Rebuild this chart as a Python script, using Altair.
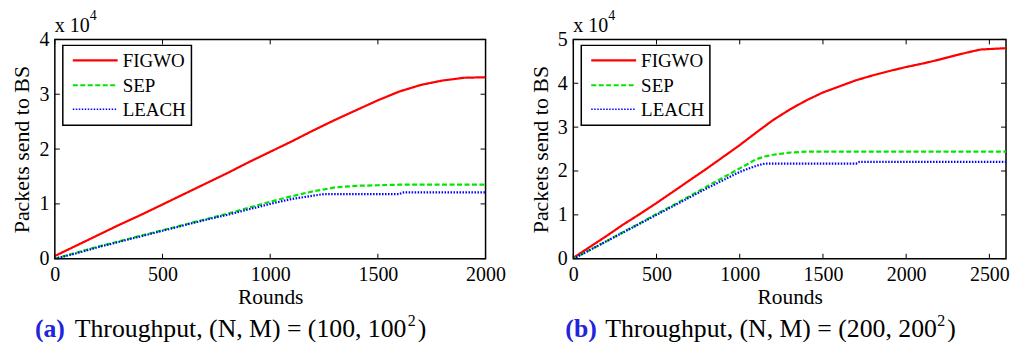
import altair as alt
import pandas as pd

FONT = "Times New Roman, Liberation Serif, Times, serif"

series = ["FIGWO", "SEP", "LEACH"]
colors = ["#ff0000", "#00e600", "#0000ff"]
dashes = [[1, 0], [5, 2.5], [1.5, 1.5]]
widths = [2.2, 2.2, 1.4]

# ---- panel (a): (N, M) = (100, 100^2), values in x10^4 packets ----
a_figwo_r = [0, 100, 200, 300, 400, 500, 600, 700, 800, 900, 1000, 1100, 1200, 1300,
             1400, 1500, 1600, 1700, 1800, 1900, 2000]
a_figwo_v = [0.05, 0.24, 0.43, 0.62, 0.80, 0.99, 1.18, 1.37, 1.56, 1.76, 1.95, 2.14, 2.34,
             2.53, 2.71, 2.89, 3.05, 3.17, 3.25, 3.30, 3.31]
a_sep_r = [0, 100, 200, 300, 400, 500, 600, 700, 800, 900, 1000, 1100, 1200, 1300, 1400,
           1500, 1600, 2000]
a_sep_v = [0.0, 0.11, 0.22, 0.32, 0.42, 0.52, 0.62, 0.72, 0.82, 0.93, 1.04, 1.14, 1.23,
           1.30, 1.33, 1.34, 1.35, 1.35]
a_leach_r = [0, 100, 200, 300, 400, 500, 600, 700, 800, 900, 1000, 1100, 1200, 1250, 1300,
             1600, 1620, 2000]
a_leach_v = [0.0, 0.10, 0.21, 0.31, 0.41, 0.51, 0.61, 0.71, 0.80, 0.90, 1.00, 1.09, 1.15,
             1.18, 1.18, 1.18, 1.21, 1.21]

# ---- panel (b): (N, M) = (200, 200^2) ----
b_figwo_r = [0, 100, 200, 300, 400, 500, 600, 700, 800, 900, 1000, 1100, 1200, 1300, 1400,
             1500, 1600, 1700, 1800, 1900, 2000, 2100, 2200, 2300, 2400, 2450, 2500, 2600]
b_figwo_v = [0.02, 0.27, 0.52, 0.78, 1.02, 1.27, 1.53, 1.79, 2.05, 2.32, 2.59, 2.88, 3.16,
             3.40, 3.61, 3.79, 3.93, 4.07, 4.18, 4.28, 4.37, 4.45, 4.54, 4.64, 4.73, 4.77,
             4.78, 4.80]
b_sep_r = [0, 100, 200, 300, 400, 500, 600, 700, 800, 900, 1000, 1100, 1150, 1200, 1300,
           1400, 2600]
b_sep_v = [0.0, 0.20, 0.40, 0.61, 0.81, 1.02, 1.22, 1.43, 1.64, 1.85, 2.06, 2.27, 2.33,
           2.37, 2.42, 2.44, 2.44]
b_leach_r = [0, 100, 200, 300, 400, 500, 600, 700, 800, 900, 1000, 1100, 1150, 1700, 1720,
             2600]
b_leach_v = [0.0, 0.20, 0.40, 0.60, 0.80, 1.00, 1.20, 1.40, 1.60, 1.79, 1.98, 2.12, 2.17,
             2.17, 2.21, 2.21]

a_xticks = [0, 500, 1000, 1500, 2000]
a_yticks = [0, 1, 2, 3, 4]
b_xticks = [0, 500, 1000, 1500, 2000, 2500]
b_yticks = [0, 1, 2, 3, 4, 5]

cap_tags = ["(a)", "(b)"]
cap_texts = ["Throughput, (N, M) = (100, 100", "Throughput, (N, M) = (200, 200"]
cap_sup = "2"
cap_close = ")"
x_title = "Rounds"
y_title = "Packets send to BS"
exp_base = "x 10"
exp_sup = "4"

H = 220
CAP_FS = 25.8


def long_df(parts):
    rows = []
    for name, rr, vv in parts:
        for r, v in zip(rr, vv):
            rows.append({"Rounds": r, "Packets": v, "Series": name})
    return pd.DataFrame(rows)


def panel(parts, xdom, ydom, xticks, yticks, W, tag, text, cap_off):
    df = long_df(parts)
    X = alt.X("Rounds:Q", scale=alt.Scale(domain=xdom, nice=False, zero=False),
              axis=alt.Axis(values=xticks, format="d", title=x_title, grid=False,
                            ticks=False, domain=False, labelFont=FONT, labelFontSize=20,
                            labelColor="black", labelPadding=6, titleFont=FONT,
                            titleFontSize=21.5, titleFontWeight="normal", titleColor="black",
                            titlePadding=2, labelFlush=False, labelOverlap=False))
    Y = alt.Y("Packets:Q", scale=alt.Scale(domain=ydom, nice=False, zero=False),
              axis=alt.Axis(values=yticks, format="d", title=y_title, grid=False,
                            ticks=False, domain=False, labelFont=FONT, labelFontSize=20,
                            labelColor="black", labelPadding=6, titleFont=FONT,
                            titleFontSize=22, titleFontWeight="normal", titleColor="black",
                            titlePadding=5, labelFlush=False, labelOverlap=False))

    lines = alt.Chart(df).mark_line(clip=True).encode(
        x=X, y=Y,
        color=alt.Color("Series:N", scale=alt.Scale(domain=series, range=colors), legend=None),
        strokeDash=alt.StrokeDash("Series:N", scale=alt.Scale(domain=series, range=dashes),
                                  legend=None),
        strokeWidth=alt.StrokeWidth("Series:N", scale=alt.Scale(domain=series, range=widths),
                                    legend=None),
        order=alt.Order("Rounds:Q"),
    )

    xt = pd.DataFrame({"Rounds": xticks})
    yt = pd.DataFrame({"Packets": yticks})
    tick_b = alt.Chart(xt).mark_rule(color="black", strokeWidth=1).encode(
        x=X, y=alt.value(H), y2=alt.value(H - 5))
    tick_t = alt.Chart(xt).mark_rule(color="black", strokeWidth=1).encode(
        x=X, y=alt.value(0), y2=alt.value(5))
    tick_l = alt.Chart(yt).mark_rule(color="black", strokeWidth=1).encode(
        y=Y, x=alt.value(0), x2=alt.value(5))
    tick_r = alt.Chart(yt).mark_rule(color="black", strokeWidth=1).encode(
        y=Y, x=alt.value(W - 5), x2=alt.value(W))

    one = alt.Data(values=[{"k": 1}])
    legend_box = alt.Chart(one).mark_rect(fill="white", stroke="black", strokeWidth=1.5).encode(
        x=alt.value(8), x2=alt.value(137), y=alt.value(6), y2=alt.value(86))
    leg = [legend_box]
    row_y = [21, 46, 70]
    for i, name in enumerate(series):
        leg.append(alt.Chart(one).mark_rule(color=colors[i], strokeDash=dashes[i],
                                            strokeWidth=widths[i]).encode(
            x=alt.value(18), x2=alt.value(63), y=alt.value(row_y[i]), y2=alt.value(row_y[i])))
        leg.append(alt.Chart(alt.Data(values=[{"t": name}])).mark_text(
            align="left", baseline="middle", font=FONT, fontSize=19, color="black").encode(
            text="t:N", x=alt.value(68), y=alt.value(row_y[i] + 1)))

    exp1 = alt.Chart(alt.Data(values=[{"t": exp_base}])).mark_text(
        align="left", baseline="alphabetic", font=FONT, fontSize=20, color="black").encode(
        text="t:N", x=alt.value(0), y=alt.value(-7))
    exp2 = alt.Chart(alt.Data(values=[{"t": exp_sup}])).mark_text(
        align="left", baseline="alphabetic", font=FONT, fontSize=14, color="black").encode(
        text="t:N", x=alt.value(35), y=alt.value(-19))

    c_tag = alt.Chart(alt.Data(values=[{"t": tag}])).mark_text(
        align="left", baseline="alphabetic", font=FONT, fontSize=CAP_FS, fontWeight="bold",
        color="#2323dc").encode(text="t:N", x=alt.value(cap_off[0]), y=alt.value(298))
    c_txt = alt.Chart(alt.Data(values=[{"t": text}])).mark_text(
        align="left", baseline="alphabetic", font=FONT, fontSize=CAP_FS, color="black").encode(
        text="t:N", x=alt.value(cap_off[1]), y=alt.value(298))
    c_sup = alt.Chart(alt.Data(values=[{"t": cap_sup}])).mark_text(
        align="left", baseline="alphabetic", font=FONT, fontSize=16, color="black").encode(
        text="t:N", x=alt.value(cap_off[2]), y=alt.value(287))
    c_close = alt.Chart(alt.Data(values=[{"t": cap_close}])).mark_text(
        align="left", baseline="alphabetic", font=FONT, fontSize=CAP_FS, color="black").encode(
        text="t:N", x=alt.value(cap_off[3]), y=alt.value(298))

    return alt.layer(lines, tick_b, tick_t, tick_l, tick_r, *leg, exp1, exp2,
                     c_tag, c_txt, c_sup, c_close).properties(width=W, height=H)


pa = panel([("FIGWO", a_figwo_r, a_figwo_v), ("SEP", a_sep_r, a_sep_v),
            ("LEACH", a_leach_r, a_leach_v)],
           [0, 2000], [0, 4], a_xticks, a_yticks, 432, cap_tags[0], cap_texts[0],
           (-20, 20, 354, 364))
pb = panel([("FIGWO", b_figwo_r, b_figwo_v), ("SEP", b_sep_r, b_sep_v),
            ("LEACH", b_leach_r, b_leach_v)],
           [0, 2600], [0, 5], b_xticks, b_yticks, 434, cap_tags[1], cap_texts[1],
           (-8, 32, 365, 375))

chart = alt.hconcat(pa, pb, spacing=88, bounds="flush").properties(
    padding={"left": 10, "top": 8, "right": 0, "bottom": 0},
    background="white",
).configure_view(stroke="black", strokeWidth=1.5)

chart.save("out.html", embed_options={"renderer": "svg", "actions": False})
